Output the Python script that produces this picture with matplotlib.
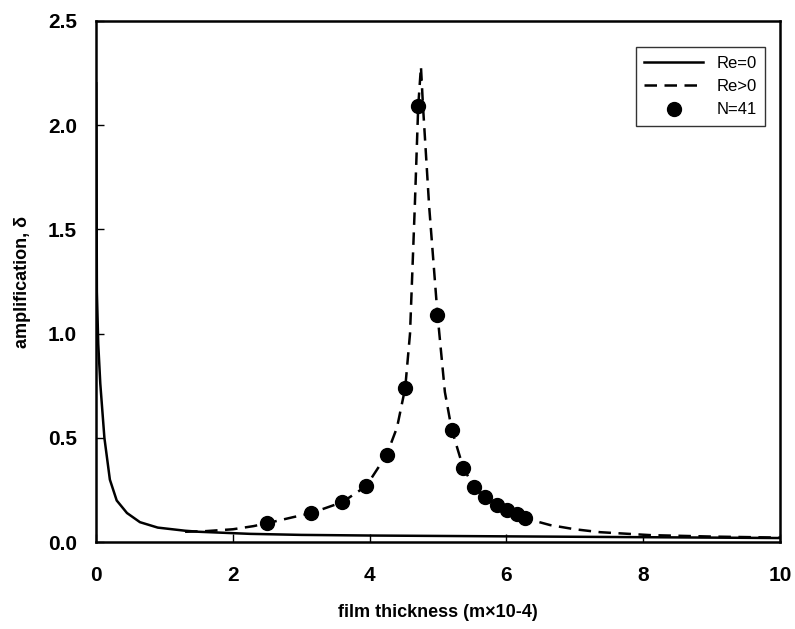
import matplotlib
matplotlib.use("Agg")
import matplotlib.pyplot as plt

plt.rcParams['font.family'] = ['Liberation Sans', 'DejaVu Sans']

# Re=0 curve
x_re0 = [0.0, 0.01, 0.03, 0.06, 0.12, 0.2, 0.3, 0.45, 0.64, 0.9, 1.3, 1.5,
         2.25, 3.0, 4.0, 5.0, 6.0, 7.0, 8.0, 9.0, 10.0]
y_re0 = [2.2, 1.2, 0.95, 0.76, 0.5, 0.3, 0.2, 0.14, 0.096, 0.07, 0.055, 0.05,
         0.04, 0.035, 0.032, 0.03, 0.028, 0.026, 0.024, 0.022, 0.02]

# Re>0 curve
x_re1 = [1.3, 1.6, 2.0, 2.3, 2.5, 2.88, 3.14, 3.6, 3.95, 4.25, 4.4, 4.52, 4.59,
         4.66, 4.71, 4.75, 4.78, 4.87, 4.99, 5.1, 5.2, 5.37, 5.53, 5.69, 5.86,
         6.01, 6.15, 6.27, 6.64, 7.0, 7.37, 8.1, 9.0, 10.0]
y_re1 = [0.05, 0.053, 0.062, 0.077, 0.091, 0.12, 0.139, 0.192, 0.269, 0.42, 0.55,
         0.74, 1.0, 1.61, 2.09, 2.28, 2.09, 1.61, 1.10, 0.72, 0.54, 0.355, 0.264,
         0.216, 0.178, 0.154, 0.134, 0.115, 0.082, 0.062, 0.048, 0.034, 0.027,
         0.022]

# N=41 points
x_n41 = [2.50, 3.14, 3.60, 3.95, 4.25, 4.52, 4.71, 4.99, 5.20, 5.37, 5.53,
         5.69, 5.86, 6.01, 6.15, 6.27]
y_n41 = [0.091, 0.139, 0.192, 0.269, 0.42, 0.74, 2.09, 1.09, 0.54, 0.355,
         0.264, 0.216, 0.178, 0.154, 0.134, 0.115]

fig = plt.figure(figsize=(7.95, 6.29), dpi=100)
ax = fig.add_axes([0.121, 0.138, 0.860, 0.829])

ax.plot(x_re0, y_re0, color='black', lw=1.8, label='Re=0')
ax.plot(x_re1, y_re1, color='black', lw=1.8, dashes=(5, 3), label='Re>0')
ax.plot(x_n41, y_n41, 'o', color='black', ms=10, label='N=41')

ax.set_xlim(0, 10)
ax.set_ylim(0, 2.5)
ax.set_xticks([0, 2, 4, 6, 8, 10])
ax.set_yticks([0.0, 0.5, 1.0, 1.5, 2.0, 2.5])
ax.set_yticklabels(['0.0', '0.5', '1.0', '1.5', '2.0', '2.5'])
ax.tick_params(direction='in', length=6, width=1, labelsize=15)
ax.tick_params(axis='x', pad=17)
ax.tick_params(axis='y', pad=14)
for lab in ax.get_xticklabels() + ax.get_yticklabels():
    lab.set_fontweight('bold')
for s in ax.spines.values():
    s.set_linewidth(1.8)

ax.set_xlabel('film thickness (m×10-4)', fontsize=13, fontweight='bold', labelpad=14)
ax.set_ylabel('amplification, δ', fontsize=13, fontweight='bold', labelpad=12)

leg = ax.legend(loc='upper right', bbox_to_anchor=(0.99, 0.965), fontsize=12,
                handlelength=3.5, frameon=True, fancybox=False, edgecolor='black',
                borderpad=0.5, labelspacing=0.5)
leg.get_frame().set_linewidth(1.0)

fig.savefig('out.png', dpi=100)
